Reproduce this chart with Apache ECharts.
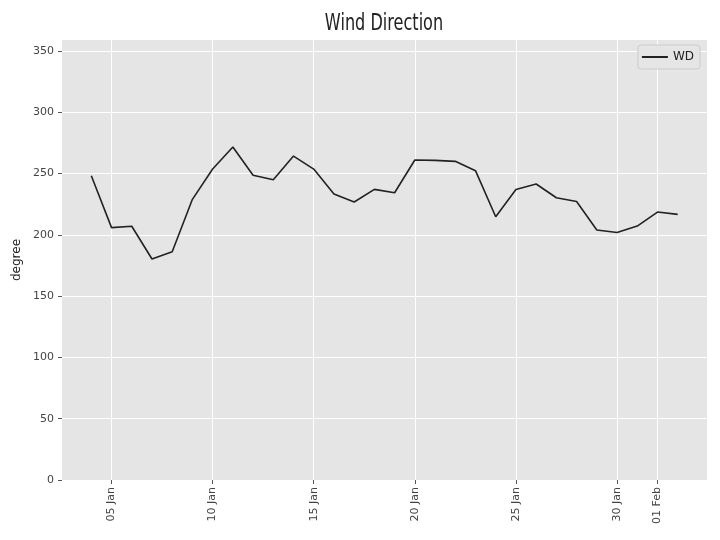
<!DOCTYPE html>
<html>
<head>
<meta charset="utf-8">
<script src="https://cdn.jsdelivr.net/npm/echarts@6/dist/echarts.min.js"></script>
<style>html,body{margin:0;padding:0;background:#fff}#c{width:720px;height:540px}</style>
</head>
<body>
<div id="c"></div>
<script>
var titleText = 'Wind Direction';
var seriesName = 'WD';
var dates = ['2015-01-04','2015-01-05','2015-01-06','2015-01-07','2015-01-08','2015-01-09','2015-01-10','2015-01-11','2015-01-12','2015-01-13','2015-01-14','2015-01-15','2015-01-16','2015-01-17','2015-01-18','2015-01-19','2015-01-20','2015-01-21','2015-01-22','2015-01-23','2015-01-24','2015-01-25','2015-01-26','2015-01-27','2015-01-28','2015-01-29','2015-01-30','2015-01-31','2015-02-01','2015-02-02'];
var wd = [248.3,205.9,207.0,180.3,186.3,229.0,253.7,271.7,248.6,245.0,264.3,253.7,233.3,226.8,237.1,234.4,261.1,260.8,260.0,252.4,214.8,237.1,241.5,230.3,227.3,204.0,202.0,207.2,218.6,216.7];
var xTickDates = ['2015-01-05','2015-01-10','2015-01-15','2015-01-20','2015-01-25','2015-01-30','2015-02-01'];
var yTicks = [0,50,100,150,200,250,300,350];
var months = ['Jan','Feb','Mar','Apr','May','Jun','Jul','Aug','Sep','Oct','Nov','Dec'];

// day number since epoch (UTC)
function dn(s){var p=s.split('-');return Date.UTC(+p[0],+p[1]-1,+p[2])/86400000;}
var xs = dates.map(dn);
var span = xs[xs.length-1]-xs[0];
var xMin = xs[0]-span*0.05, xMax = xs[xs.length-1]+span*0.05;
var xTicks = xTickDates.map(dn);

var chart = echarts.init(document.getElementById('c'));
chart.setOption({
  animation:false,
  backgroundColor:'#ffffff',
  graphic:[{type:'text',x:384,y:24,scaleX:0.7,originX:0,originY:0,silent:true,
    style:{text:titleText,font:"normal 23px 'DejaVu Sans'",fill:'#222',textAlign:'center',textVerticalAlign:'middle'}}],
  legend:{right:20,top:45,itemWidth:26,itemHeight:2,itemGap:10,padding:[6,6,6,4],backgroundColor:'#e5e5e5',borderColor:'#cccccc',borderWidth:1,borderRadius:3,
    textStyle:{fontFamily:'DejaVu Sans',fontSize:12,color:'#222'},data:[{name:seriesName,icon:'rect'}]},
  grid:{left:62,right:13,top:40,bottom:60,show:true,backgroundColor:'#e5e5e5',borderWidth:0},
  xAxis:{type:'value',min:xMin,max:xMax,
    axisLine:{show:false},
    axisTick:{show:true,length:4,lineStyle:{color:'#555'},customValues:xTicks},
    axisLabel:{rotate:90,fontFamily:'DejaVu Sans',fontSize:11,color:'#444',margin:7,customValues:xTicks,
      formatter:function(v){var d=new Date(Math.round(v)*86400000);var dd=d.getUTCDate();return (dd<10?'0':'')+dd+' '+months[d.getUTCMonth()];}},
    splitLine:{show:true,lineStyle:{color:'#ffffff',width:1}}},
  yAxis:{type:'value',min:0,max:359,name:'degree',nameLocation:'middle',nameGap:39,nameMoveOverlap:false,
    nameTextStyle:{fontFamily:'DejaVu Sans',fontSize:12,color:'#222'},
    axisLine:{show:false},
    axisTick:{show:true,length:4,lineStyle:{color:'#555'},customValues:yTicks},
    axisLabel:{fontFamily:'DejaVu Sans',fontSize:11,color:'#444',margin:8,customValues:yTicks},
    splitLine:{show:true,lineStyle:{color:'#ffffff',width:1}}},
  series:[{name:seriesName,type:'line',data:xs.map(function(x,i){return [x,wd[i]];}),showSymbol:false,symbol:'none',
    lineStyle:{color:'#222222',width:1.6},itemStyle:{color:'#222222'}}]
});
</script>
</body>
</html>
